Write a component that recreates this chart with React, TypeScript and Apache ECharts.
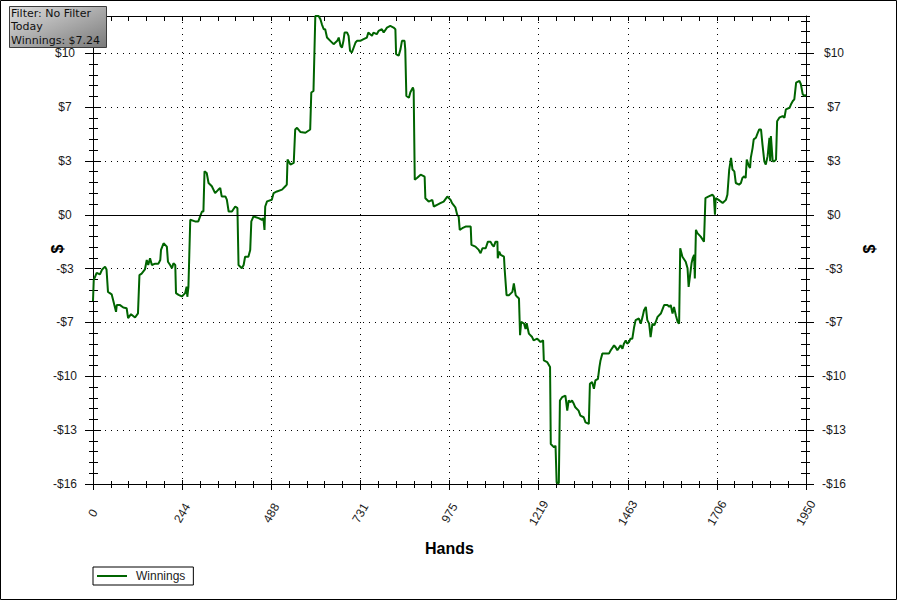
import React, { useEffect, useRef } from "react";
import * as echarts from "echarts";

// ---- data ----
const hands = [
  0, 2, 10, 19, 25, 33, 37, 41, 51, 55, 63, 65, 74, 83, 92, 96, 104, 115, 123, 127,
  133, 142, 147, 151, 156, 161, 170, 179, 184, 186, 193, 202, 205, 211, 216, 220, 225, 227, 234, 243,
  252, 256, 258, 261, 266, 279, 288, 293, 298, 302, 305, 311, 316, 325, 334, 343, 348, 352, 362, 366,
  371, 380, 389, 395, 398, 407, 412, 416, 425, 430, 433, 439, 453, 462, 466, 469, 471, 476, 489, 494,
  503, 517, 526, 530, 532, 540, 549, 553, 558, 567, 581, 594, 597, 603, 608, 617, 622, 626, 631, 635,
  640, 649, 658, 668, 672, 677, 681, 685, 688, 695, 699, 703, 708, 713, 718, 722, 731, 740, 749, 753,
  763, 767, 776, 781, 790, 795, 804, 813, 822, 827, 829, 836, 841, 845, 852, 854, 857, 864, 868, 875,
  877, 880, 886, 896, 907, 909, 918, 928, 932, 941, 950, 959, 969, 978, 982, 991, 996, 1000, 1003, 1010,
  1019, 1033, 1035, 1046, 1055, 1060, 1065, 1074, 1080, 1087, 1092, 1096, 1101, 1106, 1107, 1111, 1115, 1124, 1126, 1131,
  1138, 1147, 1151, 1156, 1160, 1165, 1168, 1171, 1179, 1183, 1186, 1192, 1201, 1205, 1215, 1224, 1231, 1233, 1242, 1250,
  1252, 1261, 1265, 1268, 1274, 1277, 1283, 1292, 1297, 1301, 1306, 1310, 1315, 1319, 1328, 1333, 1342, 1347, 1356, 1359,
  1365, 1370, 1374, 1381, 1385, 1388, 1393, 1402, 1411, 1416, 1425, 1429, 1434, 1443, 1448, 1452, 1457, 1461, 1466, 1470,
  1475, 1480, 1484, 1493, 1498, 1503, 1507, 1512, 1516, 1521, 1525, 1530, 1535, 1539, 1544, 1553, 1562, 1571, 1576, 1580,
  1585, 1589, 1594, 1599, 1603, 1606, 1612, 1621, 1626, 1629, 1633, 1637, 1640, 1644, 1646, 1649, 1653, 1662, 1671, 1675,
  1684, 1694, 1698, 1701, 1703, 1711, 1722, 1731, 1735, 1740, 1745, 1749, 1754, 1758, 1767, 1772, 1776, 1781, 1785, 1788,
  1794, 1797, 1799, 1804, 1807, 1813, 1818, 1822, 1827, 1831, 1836, 1840, 1845, 1850, 1852, 1854, 1859, 1863, 1868, 1871,
  1877, 1886, 1891, 1895, 1905, 1909, 1914, 1918, 1923, 1932, 1936, 1941, 1946, 1950,
];

const winnings = [
  -5.2, -3.95, -3.5, -3.6, -3.3, -3.13, -3.3, -4.65, -4.8, -5.15, -5.86, -5.45, -5.45, -5.6, -5.64, -6.24, -6.0, -6.2, -5.95, -3.64,
  -3.55, -3.3, -2.73, -3.03, -2.63, -3.03, -2.95, -2.95, -2.73, -2.12, -1.72, -1.92, -2.83, -3.03, -3.23, -2.93, -3.03, -4.73, -4.83, -4.93,
  -4.73, -4.34, -4.95, -4.34, -0.3, -0.4, -0.4, -0.1, 0.2, 0.2, 2.62, 2.52, 1.92, 1.72, 1.31, 1.52, 1.62, 1.11, 1.11, 0.91,
  0.2, 0.2, 0.5, 0.4, -3.03, -3.23, -3.03, -2.53, -2.53, -2.12, -0.4, -0.1, -0.2, -0.3, -0.2, -0.91, 0.5, 0.81, 0.91, 1.31,
  1.41, 1.52, 1.72, 1.82, 3.33, 3.03, 3.13, 5.15, 5.25, 5.0, 4.95, 5.15, 7.38, 7.47, 12.0, 12.0, 11.8, 11.5, 11.2, 11.2,
  10.7, 10.5, 10.3, 10.5, 10.7, 10.2, 10.1, 10.5, 11.0, 11.0, 10.8, 9.9, 9.8, 10.1, 10.4, 10.5, 10.5, 10.6, 10.7, 11.0,
  10.8, 11.0, 10.9, 11.1, 11.2, 11.0, 11.3, 11.4, 11.3, 11.2, 9.7, 9.6, 10.0, 10.5, 10.5, 10.0, 7.17, 7.07, 7.4, 7.68,
  7.5, 2.12, 2.22, 2.42, 2.3, 1.0, 0.8, 0.9, 0.5, 0.6, 0.7, 0.8, 1.1, 0.9, 0.7, 0.45, 0.0, -0.1, -0.91, -0.81,
  -0.71, -0.71, -1.82, -1.92, -2.12, -2.32, -2.02, -2.02, -1.62, -1.62, -1.82, -1.92, -1.62, -1.62, -2.62, -2.22, -2.42, -2.53, -3.33, -4.85,
  -4.85, -4.65, -4.14, -4.85, -4.95, -5.05, -7.27, -6.47, -6.57, -6.9, -6.55, -7.17, -7.38, -7.58, -7.48, -7.68, -7.58, -8.79, -8.89, -9.19,
  -13.84, -14.04, -13.94, -16.16, -16.2, -11.21, -11.01, -10.91, -11.82, -11.21, -11.31, -11.21, -11.41, -11.62, -11.82, -12.12, -12.22, -12.53, -12.62, -10.2,
  -10.1, -10.5, -10.0, -9.9, -9.19, -8.79, -8.38, -8.38, -8.38, -8.18, -7.88, -7.98, -8.18, -7.88, -8.08, -7.78, -7.58, -7.78, -7.68, -7.48,
  -7.48, -6.77, -6.36, -6.26, -6.57, -6.16, -5.76, -5.56, -6.36, -6.57, -7.38, -6.57, -6.67, -6.47, -6.16, -5.96, -5.45, -5.45, -5.56, -5.45,
  -5.96, -5.56, -6.06, -6.47, -6.57, -2.02, -2.53, -2.83, -3.23, -4.35, -3.64, -2.93, -2.63, -2.42, -3.84, -0.91, -1.11, -1.32, -1.62, 1.01,
  1.11, 1.21, 1.11, 0.0, 1.01, 0.9, 0.71, 0.9, 1.21, 2.73, 3.44, 2.73, 2.62, 1.92, 1.82, 1.92, 2.22, 2.32, 2.22, 3.33,
  2.93, 2.83, 3.44, 4.04, 4.55, 4.65, 4.95, 5.15, 5.15, 4.24, 3.23, 3.03, 3.54, 4.65, 3.23, 4.75, 3.23, 3.23, 3.33, 5.65,
  5.86, 5.96, 5.86, 6.36, 6.46, 6.67, 6.87, 6.97, 7.98, 8.08, 7.88, 7.27, 7.17, 7.24,
];

const filterLines = ["Filter: No Filter", "Today", "Winnings: $7.24"];
const seriesName = "Winnings";
const xTitle = "Hands";
const yTitle = "$";

const X_MIN = 0;
const X_MAX = 1950;
const X_STEP = 243.75;
const Y_MIN = -16.25;
const Y_MAX = 12;
const Y_STEP = 3.25;
const Y_MINOR = 0.65;

const LABEL_FONT = "Liberation Sans";
const LINE_COLOR = "#006400";

function money(v: number): string {
  if (Math.abs(v) < 1e-6) return "$0";
  const r = Math.round(Math.abs(v));
  return (v < 0 ? "-$" : "$") + r;
}

function yAxisDef(position: "left" | "right", interval: number, kind: "main" | "in" | "minorOut" | "minorIn") {
  const base: any = {
    type: "value",
    min: Y_MIN,
    max: Y_MAX,
    interval,
    position,
    offset: 0,
    axisLine: { show: false, onZero: false },
    axisLabel: { show: false },
    splitLine: { show: false },
    axisTick: { show: true, lineStyle: { color: "#000", width: 1 } },
  };
  if (kind === "main") {
    base.axisLine = { show: true, onZero: false, lineStyle: { color: "#000", width: 1 } };
    base.axisTick = { show: true, inside: false, length: 8, lineStyle: { color: "#000", width: 1 } };
    base.axisLabel = {
      show: true,
      formatter: money,
      margin: 28,
      align: "center",
      showMaxLabel: false,
      color: "#1a1a1a",
      fontFamily: LABEL_FONT,
      fontSize: 12,
    };
    if (position === "left") {
      base.splitLine = { show: true, lineStyle: { color: "#000", width: 1, type: [1, 5] } };
    }
  } else if (kind === "in") {
    base.axisTick = { show: true, inside: true, length: 8, lineStyle: { color: "#000", width: 1 } };
  } else if (kind === "minorOut") {
    base.axisTick = { show: true, inside: false, length: 4, lineStyle: { color: "#000", width: 1 } };
  } else {
    base.axisTick = { show: true, inside: true, length: 5, lineStyle: { color: "#000", width: 1 } };
  }
  return base;
}

export default function App() {
  const ref = useRef<HTMLDivElement>(null);

  useEffect(() => {
    if (!ref.current) return;
    const chart = echarts.init(ref.current, undefined, { renderer: "svg" });

    const xBase: any = { type: "value", min: X_MIN, max: X_MAX, interval: X_STEP };

    const option: any = {
      animation: false,
      backgroundColor: "#ffffff",
      grid: { left: 93, right: 92, top: 16, bottom: 117, containLabel: false, outerBoundsMode: "none" },
      legend: {
        left: 93,
        top: 567,
        data: [{ name: seriesName, icon: "rect" }],
        icon: "rect",
        itemWidth: 30,
        itemHeight: 2,
        itemStyle: { borderWidth: 0, color: LINE_COLOR },
        padding: [2, 8, 2, 4],
        borderColor: "#000",
        borderWidth: 1,
        borderRadius: 0,
        backgroundColor: "#fff",
        textStyle: { fontFamily: LABEL_FONT, fontSize: 12, color: "#222", padding: [0, 0, 0, 4], lineHeight: 14 },
        selectedMode: false,
      },
      xAxis: [
        {
          ...xBase,
          position: "bottom",
          name: xTitle,
          nameLocation: "middle",
          nameGap: 56,
          nameTextStyle: { fontFamily: LABEL_FONT, fontSize: 16, fontWeight: "bold", color: "#000" },
          axisLine: { show: true, onZero: false, lineStyle: { color: "#000", width: 1 } },
          axisTick: { show: true, inside: false, length: 6, lineStyle: { color: "#000" } },
          minorTick: { show: true, splitNumber: 5, length: 4, lineStyle: { color: "#000" } },
          axisLabel: {
            formatter: (v: number) => String(Math.round(v)),
            rotate: 60,
            align: "center",
            verticalAlign: "middle",
            margin: 29,
            color: "#1a1a1a",
            fontFamily: LABEL_FONT,
            fontSize: 12,
          },
          splitLine: { show: true, lineStyle: { color: "#000", width: 1, type: [1, 5] } },
        },
        {
          ...xBase,
          position: "bottom",
          axisLine: { show: false, onZero: false },
          axisTick: { show: true, inside: true, length: 4, lineStyle: { color: "#000" } },
          minorTick: { show: true, splitNumber: 5, length: 3, lineStyle: { color: "#000" } },
          axisLabel: { show: false },
          splitLine: { show: false },
        },
        {
          ...xBase,
          position: "top",
          axisLine: { show: true, onZero: false, lineStyle: { color: "#000", width: 1 } },
          axisTick: { show: true, inside: true, length: 5, lineStyle: { color: "#000" } },
          minorTick: { show: true, splitNumber: 5, length: 5, lineStyle: { color: "#000" } },
          axisLabel: { show: false },
          splitLine: { show: false },
        },
      ],
      yAxis: [
        yAxisDef("left", Y_STEP, "main"),
        yAxisDef("left", Y_STEP, "in"),
        yAxisDef("left", Y_MINOR, "minorOut"),
        yAxisDef("left", Y_MINOR, "minorIn"),
        yAxisDef("right", Y_STEP, "main"),
        yAxisDef("right", Y_STEP, "in"),
        yAxisDef("right", Y_MINOR, "minorOut"),
        yAxisDef("right", Y_MINOR, "minorIn"),
      ],
      series: [
        {
          name: seriesName,
          type: "line",
          xAxisIndex: 0,
          yAxisIndex: 0,
          data: hands.map((h, i) => [h, winnings[i]]),
          symbol: "none",
          showSymbol: false,
          color: LINE_COLOR,
          itemStyle: { color: LINE_COLOR, borderWidth: 0 },
          lineStyle: { color: LINE_COLOR, width: 2 },
          emphasis: { disabled: true },
          clip: true,
          markLine: {
            silent: true,
            symbol: "none",
            label: { show: false },
            lineStyle: { color: "#000", type: "solid", width: 1 },
            emphasis: { disabled: true },
            data: [{ yAxis: 0 }],
          },
        },
      ],
      graphic: [
        {
          type: "rect",
          silent: true,
          z: 100,
          shape: { x: 0.5, y: 0.5, width: 896, height: 599 },
          style: { fill: "none", stroke: "#000", lineWidth: 1 },
        },
        {
          type: "rect",
          silent: true,
          z: 100,
          shape: { x: 9.5, y: 6.5, width: 97, height: 41 },
          style: {
            fill: new echarts.graphic.LinearGradient(0, 0, 1, 1, [
              { offset: 0, color: "#dedede" },
              { offset: 1, color: "#7a7a7a" },
            ]),
            stroke: "#3c3c3c",
            lineWidth: 1,
          },
        },
        ...filterLines.map((t, i) => ({
          type: "text",
          silent: true,
          z: 101,
          x: 11,
          y: 13 + i * 13.5,
          style: {
            text: t,
            fontFamily: "DejaVu Sans",
            fontSize: 11,
            fill: "#111",
            align: "left",
            verticalAlign: "middle",
          },
        })),
        {
          type: "text",
          silent: true,
          z: 101,
          x: 57,
          y: 249,
          rotation: Math.PI / 2,
          style: {
            text: yTitle,
            fontFamily: LABEL_FONT,
            fontSize: 16,
            fontWeight: "bold",
            fill: "#000",
            align: "center",
            verticalAlign: "middle",
          },
        },
        {
          type: "text",
          silent: true,
          z: 101,
          x: 869,
          y: 249,
          rotation: Math.PI / 2,
          style: {
            text: yTitle,
            fontFamily: LABEL_FONT,
            fontSize: 16,
            fontWeight: "bold",
            fill: "#000",
            align: "center",
            verticalAlign: "middle",
          },
        },
      ],
    };

    chart.setOption(option);
    return () => {
      chart.dispose();
    };
  }, []);

  return (
    <div
      ref={ref}
      style={{ position: "absolute", left: 0, top: 0, width: 898, height: 601, background: "#fff" }}
    />
  );
}
